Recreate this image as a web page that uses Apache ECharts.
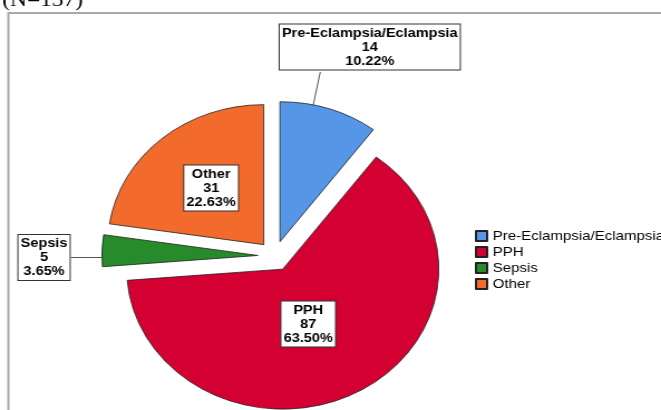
<!doctype html>
<html>
<head>
<meta charset="utf-8">
<title>Causes</title>
<script src="https://cdn.jsdelivr.net/npm/echarts@6/dist/echarts.min.js"></script>
<style>
  html, body { margin: 0; padding: 0; background: #fff; overflow: hidden; }
  /* the source picture is stretched sideways, so the chart is too */
  #chart { width: 593px; height: 410px; transform: scaleX(1.1147); transform-origin: 0 0; }
</style>
</head>
<body>
<div id="chart"></div>
<script>
var categories = ['Pre-Eclampsia/Eclampsia', 'PPH', 'Sepsis', 'Other'];
var counts = [14, 87, 5, 31];
var sliceColors = ['#5596E6', '#D50032', '#278A2B', '#F26A2C'];

// label box centres (chart px, before the stretch)
var labelPos = [[331.7, 47], [276.5, 324], [39.5, 257.5], [189.4, 188]];

var total = counts.reduce(function (a, b) { return a + b; }, 0);
var pieCenter = [246.4, 256];
var explode = 15;

var myChart = echarts.init(document.getElementById('chart'));

// one pie per slice, each with every value so the angles stay right;
// only its own slice is painted, and its centre is pushed out along the bisector
var series = [];
var cum = 0;
categories.forEach(function (name, i) {
    var mid = (cum + counts[i] / 2) / total * Math.PI * 2;
    cum += counts[i];
    var outside = (i === 0 || i === 2);
    series.push({
        type: 'pie',
        name: 'slice' + i,
        center: [pieCenter[0] + explode * Math.sin(mid), pieCenter[1] - explode * Math.cos(mid)],
        radius: 140,
        startAngle: 90,
        clockwise: true,
        avoidLabelOverlap: false,
        emphasis: { disabled: true },
        itemStyle: { borderColor: '#222', borderWidth: 0.8 },
        label: {
            formatter: function (p) {
                return p.name + '\n' + p.value + '\n' + p.percent.toFixed(2) + '%';
            },
            color: '#000',
            fontFamily: 'Liberation Sans',
            fontWeight: 'bold',
            fontSize: 13,
            lineHeight: 14,
            align: 'center',
            backgroundColor: '#fff',
            borderColor: '#333',
            borderWidth: 1,
            padding: [2, 2, 1, 2],
            position: outside ? 'outside' : 'inside'
        },
        labelLine: { show: outside, lineStyle: { color: '#555', width: 1 } },
        labelLayout: function (params) {
            var pos = labelPos[i];
            var out = { x: pos[0], y: pos[1], align: 'center', verticalAlign: 'middle' };
            if (i === 0) {
                out.labelLinePoints = [[281, 105], [287.3, 72], [287.3, 72]];
            }
            return out;
        },
        data: counts.map(function (v, j) {
            if (j === i) {
                return { name: name, value: v, itemStyle: { color: sliceColors[j] } };
            }
            return {
                name: '', value: v,
                itemStyle: { color: 'rgba(0,0,0,0)', borderWidth: 0 },
                label: { show: false }, labelLine: { show: false }
            };
        })
    });
});

var option = {
    animation: false,
    graphic: [
        {
            type: 'rect',
            shape: { x: 7.5, y: 13, width: 700, height: 500 },
            style: { fill: 'none', stroke: '#a8a8a8', lineWidth: 2 },
            silent: true
        },
        {
            type: 'text',
            left: 2, top: -10,
            style: { text: '(N=' + total + ')', font: '21px "Liberation Serif"', fill: '#000' },
            silent: true
        }
    ],
    legend: {
        orient: 'vertical',
        left: 421,
        top: 224,
        itemWidth: 10,
        itemHeight: 10,
        itemGap: 2,
        icon: 'rect',
        data: categories,
        textStyle: { fontFamily: 'Liberation Sans', fontSize: 13.5, color: '#000' }
    },
    series: series
};

myChart.setOption(option);
</script>
</body>
</html>
